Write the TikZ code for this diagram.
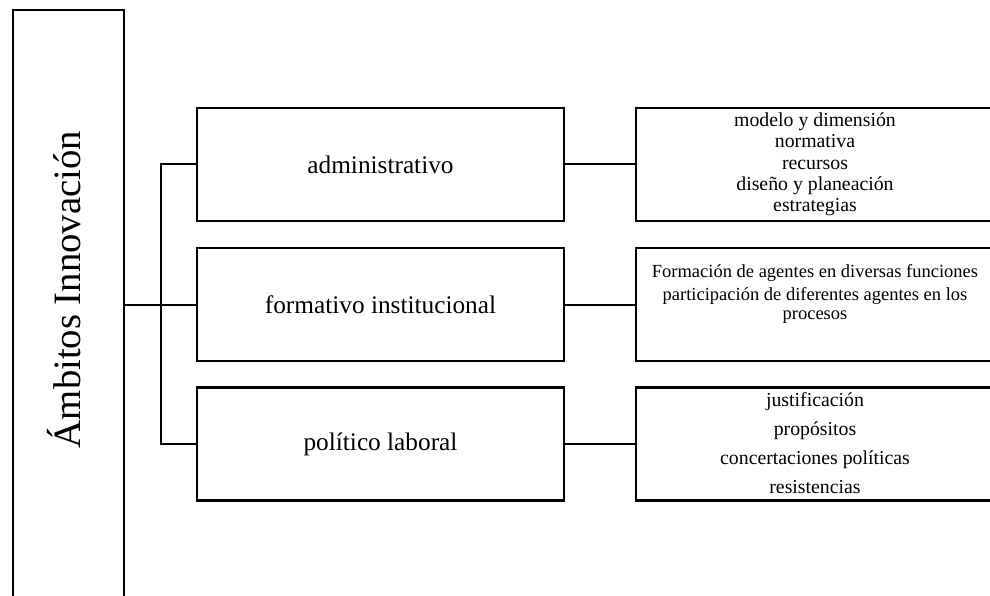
\documentclass[tikz,border=0pt]{standalone}
\usepackage{fontspec}
\setmainfont{Liberation Serif}
\usetikzlibrary{positioning,calc}
\tikzset{
	caja/.style={draw,line width=2.4pt,minimum width=367pt,minimum height=113pt,inner sep=0pt,font=\fontsize{25.3}{30}\selectfont},
	cajad/.style={draw,line width=2.4pt,minimum width=358pt,minimum height=113pt,inner sep=0pt},
	texd/.style={align=center,inner sep=0pt},
	lin/.style={line width=2pt}
}

\begin{document}
\begin{tikzpicture}[x=1pt,y=-1pt]
	\def\xm{380.5};
	\def\xd{815};
\clip (0,0) rectangle (990,596); % page size

%Caja principal
\node[draw,line width=2.4pt,minimum width=111pt,minimum height=589pt] (amb) at (68.5,304.5) {};
\node[rotate=90,inner sep=0pt,font=\fontsize{38.7}{40}\selectfont] (ambt) at ([xshift=-4pt,yshift=15pt]amb.center) {Ámbitos Innovación};

%Cajas del medio
\node[caja] (adm) at (\xm,164.5) {administrativo};
\node[caja] (for) at (\xm,304.5) {formativo institucional};
\node[caja] (pol) at (\xm,444) {político laboral};

%Cajas de la derecha
\node[cajad] (dadm) at (\xd,164.5) {};
\node[cajad] (dfor) at (\xd,304.5) {};
\node[cajad] (dpol) at (\xd,444) {};

\node[texd,font=\fontsize{19.8}{21.3}\selectfont] (tadm) at (dadm.center) {modelo y dimensión\\normativa\\recursos\\diseño y planeación\\estrategias};
\node[texd,anchor=north,font=\fontsize{18.5}{19}\selectfont] (tfor) at ($(dfor.north)+(0,17)$) {Formación de agentes en diversas funciones\\[4pt]participación de diferentes agentes en los\\procesos};
\node[texd,anchor=north,font=\fontsize{19.8}{29}\selectfont] (tpol) at ($(dpol.north)+(0,6.5)$) {justificación\\propósitos\\concertaciones políticas\\resistencias};

%Conectores
\coordinate (brk) at (161,304.5);
\draw[lin] (amb.east) -- (for.west);
\draw[lin] (adm.west) -| (brk) |- (pol.west);
\draw[lin] (adm.east) -- (dadm.west);
\draw[lin] (for.east) -- (dfor.west);
\draw[lin] (pol.east) -- (dpol.west);

\end{tikzpicture}
\end{document}
